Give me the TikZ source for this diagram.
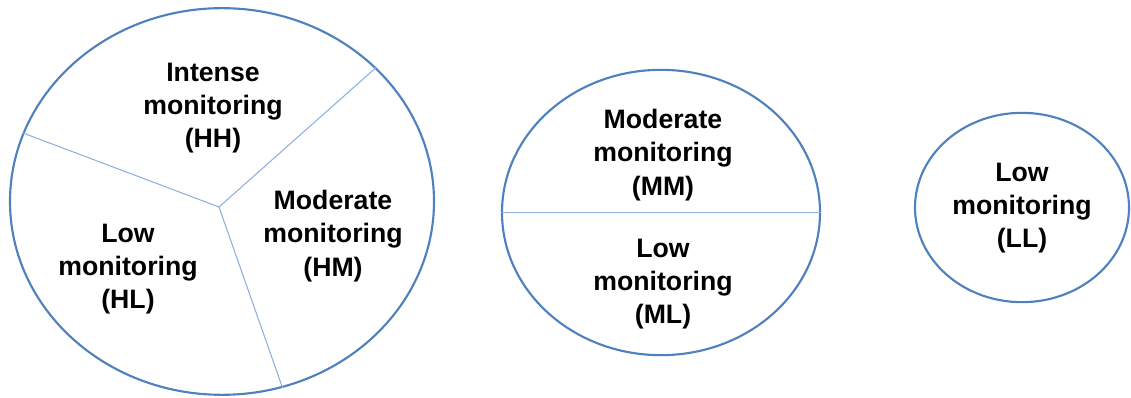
\documentclass[tikz,border=0pt]{standalone}
\usepackage{fontspec}
\setmainfont{Liberation Sans}
\usetikzlibrary{shapes.geometric}

\definecolor{rim}{HTML}{4F81BD}
\definecolor{split}{HTML}{8EB1DC}

\begin{document}
\begin{tikzpicture}[x=0.75pt, y=-0.75pt,
	ring/.style={ellipse, draw=rim, line width=1.6pt, inner sep=0pt},
	lbl/.style={align=center, font=\fontsize{20}{25}\selectfont\bfseries}]
	
	\useasboundingbox (0,0) rectangle (1131,398);
	
	% the three groups
	\node (gH) [ring, minimum width=318pt, minimum height=290pt] at (222, 201.5) {};
	\node (gM) [ring, minimum width=238.5pt, minimum height=214pt] at (661, 212.5) {};
	\node (gL) [ring, minimum width=160.5pt, minimum height=142pt] at (1022, 207.5) {};
	
	\coordinate (hub) at (219, 207);
	
	\node (tHH) [lbl] at (213, 108) {Intense\\monitoring\\(HH)};
	\node (tHM) [lbl] at (333, 236) {Moderate\\monitoring\\(HM)};
	\node (tHL) [lbl] at (128, 269) {Low\\monitoring\\(HL)};
	
	\node (tMM) [lbl] at (663, 155) {Moderate\\monitoring\\(MM)};
	\node (tML) [lbl] at (663, 284) {Low\\monitoring\\(ML)};
	
	\node (tLL) [lbl] at (1022, 208) {Low\\monitoring\\(LL)};
	
	\path[-, draw=split, line width=0.8pt]
	(hub) edge (gH.41.7)
	(hub) edge (gH.161.5)
	(hub) edge (gH.288.8)
	(gM.west) edge (gM.east);
	
\end{tikzpicture}
\end{document}
